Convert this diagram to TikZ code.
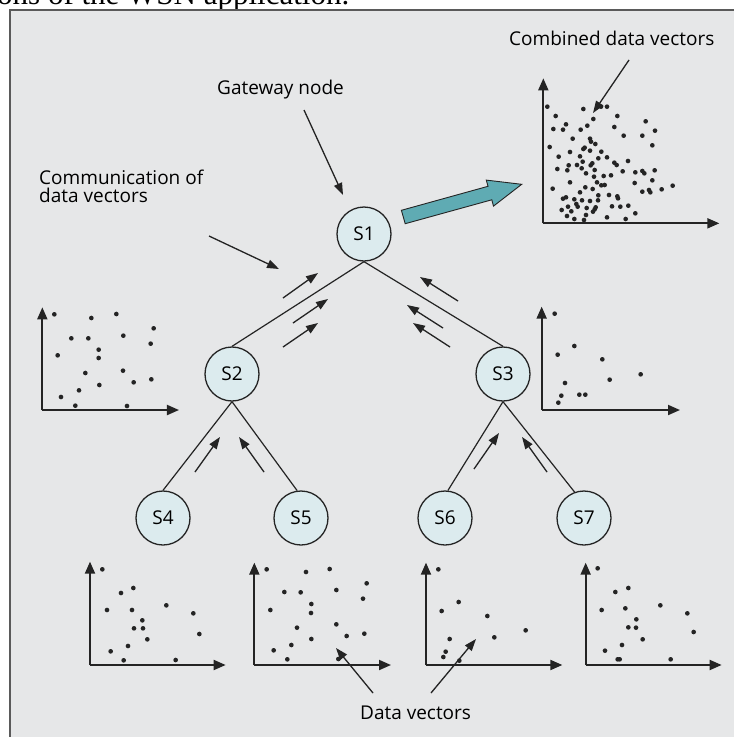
\documentclass[tikz,border=0pt]{standalone}
\usepackage{fontspec}
\setmainfont{Open Sans}
\newfontfamily\capserif{Liberation Serif}
\usetikzlibrary{arrows.meta}
\definecolor{panelbg}{HTML}{E6E7E8}
\definecolor{panelline}{HTML}{5A5A5A}
\definecolor{nodefill}{HTML}{DCEBEE}
\definecolor{ink}{HTML}{242424}
\definecolor{arrowteal}{HTML}{5FABB3}
\tikzset{
  snode/.style={circle, draw=ink, line width=1.3pt, fill=nodefill, minimum size=54pt, inner sep=0pt, font=\fontsize{19}{21}\selectfont},
  edgeline/.style={draw=ink, line width=1.2pt},
  msgarrow/.style={draw=ink, fill=ink, line width=1.3pt, -{Triangle[length=12pt,width=8.5pt]}},
  axisline/.style={draw=ink, line width=1.9pt, -{Triangle[length=12pt,width=10pt]}},
  lbl/.style={font=\fontsize{19}{18.5}\selectfont, inner sep=0pt, align=left},
}
\newcommand\dotset[1]{\foreach \p in {#1} \fill[ink] \p circle[radius=7];}
\begin{document}
\begin{tikzpicture}[x=1pt,y=-1pt]
\useasboundingbox (0,0) rectangle (734,737);
\fill[white] (0,0) rectangle (734,737);
% cut caption fragment
\node[anchor=base west, inner sep=0pt, font=\capserif\fontsize{31}{33}\selectfont] (cap) at (-3,4.5) {ons of the WSN application.};
% panel
\filldraw[fill=panelbg, draw=panelline, line width=1.4pt] (10,10) rectangle (740,745);

% sensor nodes
\node[snode] (S1) at (364,234) {S1};
\node[snode] (S2) at (232,374) {S2};
\node[snode] (S3) at (503,374) {S3};
\node[snode] (S4) at (163,518) {S4};
\node[snode] (S5) at (301,518) {S5};
\node[snode] (S6) at (445,518) {S6};
\node[snode] (S7) at (584,518) {S7};
\draw[edgeline] (S1.south) -- (S2.north);
\draw[edgeline] (S1.south) -- (S3.north);
\draw[edgeline] (S2.south) -- (S4.north);
\draw[edgeline] (S2.south) -- (S5.98);
\draw[edgeline] (S3.south) -- (S6.84);
\draw[edgeline] (S3.south) -- (S7.110);

% message arrows
\foreach \a/\b in {{(283,298)}/{(318,273)}, {(293,323)}/{(328,299)}, {(283,347)}/{(318,323)},
                   {(458,301)}/{(420,277)}, {(443,328)}/{(407,305)}, {(450,347)}/{(413,323)},
                   {(195,472)}/{(220,437)}, {(264,472)}/{(239,437)},
                   {(474,469)}/{(499,433)}, {(547,472)}/{(522,437)}}
  \draw[msgarrow] \a -- \b;

% big teal arrow
\filldraw[fill=arrowteal, draw=ink, line width=0.9pt, line join=miter]
  (401.4,210.3) -- (488.0,186.3) -- (486.3,180.1) -- (521.7,184.3) -- (493.5,206.1) -- (491.8,199.8) -- (405.2,223.7) -- cycle;

% labels
\node[lbl, anchor=base west] (gw) at (217,94.3) {Gateway node};
\node[lbl, anchor=base west] (comb) at (509,45) {Combined data vectors};
\node[lbl, anchor=base west] (comm) at (39,202.7) {Communication of\\data vectors};
\node[lbl, anchor=base west] (dv) at (360,719) {Data vectors};

\coordinate (gwA) at (304,110);  \coordinate (gwB) at (343,195);
\coordinate (cmA) at (209,236);  \coordinate (cmB) at (279,269);
\coordinate (cbA) at (629,60);   \coordinate (cbB) at (593,113);
\coordinate (dvA) at (373,693);  \coordinate (dvB) at (336,648);
\coordinate (dvC) at (431,693);  \coordinate (dvD) at (476,639);
\draw[msgarrow] (gwA) -- (gwB);
\draw[msgarrow] (cmA) -- (cmB);
\draw[msgarrow] (cbA) -- (cbB);
\draw[msgarrow] (dvA) -- (dvB);
\draw[msgarrow] (dvC) -- (dvD);

% S2 data plot
\begin{scope}[shift={(0,280)}, scale=1/3]
  \draw[axisline] (127,390) -- (127,82);
  \draw[axisline] (127,390) -- (537,390);
  \dotset{(163,103),(274,114),(349,102),(461,145),(214,175),(265,175),(370,167),(452,191),(296,209),(173,226),(296,234),(256,279),(369,272),(454,298),(401,307),(298,315),(237,331),(183,351),(226,377),(381,378)}
\end{scope}

% S3 data plot
\begin{scope}[shift={(380,150)}, scale=1/3]
  \draw[axisline] (485,780) -- (485,470);
  \draw[axisline] (485,780) -- (900,780);
  \dotset{(524,491),(583,588),(533,614),(667,628),(555,699),(689,689),(782,673),(544,737),(598,734),(616,734),(535,758)}
\end{scope}

% combined plot
\begin{scope}[shift={(480,0)}, scale=1/3]
  \draw[axisline] (190,670) -- (190,235);
  \draw[axisline] (190,670) -- (718,670);
  \dotset{(202,320),(310,327),(363,320),(381,320),(227,348),(412,348),(258,373),(340,357),(497,364),
  (220,387),(249,389),(302,389),(322,377),(403,381),(525,392),(278,416),(330,416),(431,407),(487,407),
  (333,425),(346,432),(209,441),(314,443),(310,447),(330,452),(364,455),(517,436),
  (270,456),(236,470),(300,469),(355,475),(381,472),(444,483),
  (266,496),(291,495),(308,485),(332,496),(403,488),(410,495),(428,514),
  (232,507),(262,511),(305,505),(318,520),(337,490),(344,510),(371,528),(393,526),(466,517),(487,513),(524,511),(493,520),
  (270,547),(342,530),(351,547),(364,556),(374,555),(464,549),(517,541),
  (218,566),(300,577),(316,562),(338,567),(487,575),(507,570),(511,577),(545,568),(578,557),
  (249,596),(258,592),(283,598),(306,601),(355,586),(387,585),(412,589),(414,595),(330,603),(354,601),
  (245,630),(264,620),(289,612),(293,620),(274,634),(320,624),(344,628),(347,622),(339,635),(396,619),(421,620),(445,617),(466,640),
  (261,648),(283,657),(312,660),(318,645),(381,652),(437,657)}
\end{scope}

% S4 plot
\begin{scope}[shift={(60,550)}, scale=1/3]
  \draw[axisline] (90,345) -- (90,35);
  \draw[axisline] (90,345) -- (497,345);
  \dotset{(127,58),(183,129),(220,114),(141,180),(216,180),(319,166),(400,190),(247,211),(222,235),(249,235),(418,252),(262,268),(204,288),(152,304),(191,331),(347,330)}
\end{scope}

% S5 plot
\begin{scope}[shift={(230,550)}, scale=1/3]
  \draw[axisline] (73,345) -- (73,38);
  \draw[axisline] (73,345) -- (483,345);
  \dotset{(110,58),(228,66),(299,57),(410,100),(163,126),(212,127),(319,120),(399,146),(244,162),(121,180),(243,189),(319,223),(201,233),(350,258),(403,251),(244,267),(184,285),(131,301),(172,328),(325,327)}
\end{scope}

% S6 plot
\begin{scope}[shift={(400,550)}, scale=1/3]
  \draw[axisline] (78,345) -- (78,38);
  \draw[axisline] (78,345) -- (487,345);
  \dotset{(115,58),(176,156),(125,183),(262,198),(377,241),(149,267),(283,262),(137,305),(130,321),(178,332)}
\end{scope}

% S7 plot
\begin{scope}[shift={(560,550)}, scale=1/3]
  \draw[axisline] (77,345) -- (77,38);
  \draw[axisline] (77,345) -- (485,345);
  \dotset{(113,55),(166,126),(205,114),(125,180),(196,175),(301,166),(382,190),(229,208),(205,232),(228,233),(401,246),(248,268),(186,285),(135,302),(173,328),(179,328),(332,328)}
\end{scope}
\end{tikzpicture}
\end{document}
